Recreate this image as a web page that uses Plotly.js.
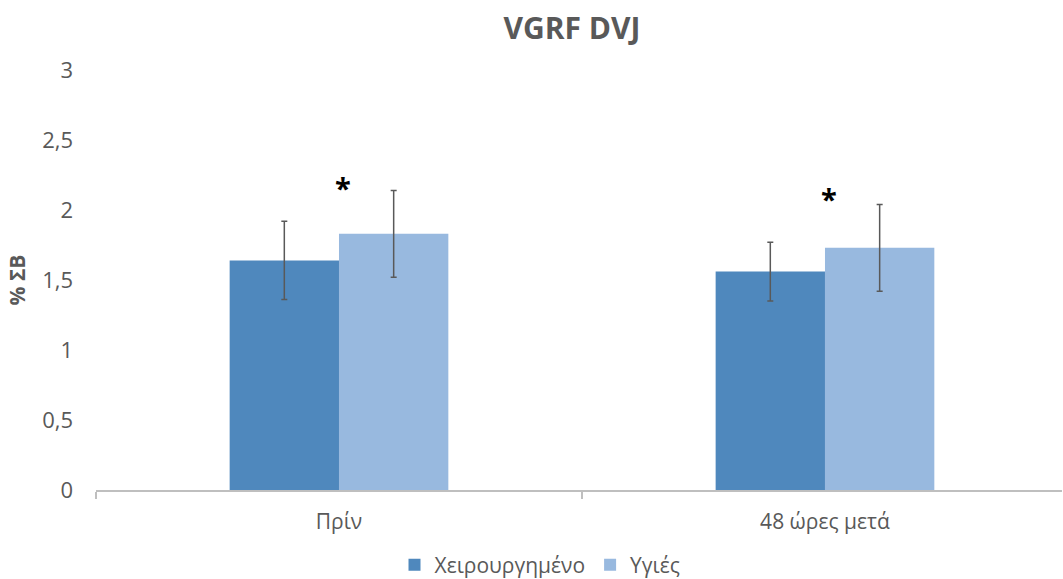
<!DOCTYPE html>
<html>
<head>
<meta charset="utf-8">
<script src="https://cdn.plot.ly/plotly-3.0.1.min.js"></script>
<style>html,body{margin:0;padding:0;background:#fff;}#chart{width:1063px;height:579px;}</style>
</head>
<body>
<div id="chart"></div>
<script>
const categories = ["Πρίν", "48 ώρες μετά"];
const seriesNames = ["Χειρουργημένο", "Υγιές"];
const operated = [1.64, 1.56];
const operatedErr = [0.28, 0.21];
const healthy = [1.83, 1.73];
const healthyErr = [0.31, 0.31];
const starY = [2.16, 2.08];
const starText = ["*", "*"];

const errStyle = {type: "data", visible: true, color: "#595959", thickness: 1.5, width: 3};

const traces = [
  {type: "bar", name: seriesNames[0], x: categories, y: operated,
   marker: {color: "#4f88bd"}, error_y: Object.assign({array: operatedErr}, errStyle)},
  {type: "bar", name: seriesNames[1], x: categories, y: healthy,
   marker: {color: "#98b9df"}, error_y: Object.assign({array: healthyErr}, errStyle)}
];

const annotations = categories.map((c, i) => ({
  x: c, y: starY[i], text: "<b>" + starText[i] + "</b>", showarrow: false, xshift: 4,
  font: {size: 29, color: "#000", family: "Open Sans"}, yanchor: "middle"
}));

const layout = {
  width: 1063, height: 579,
  margin: {l: 96, r: 1, t: 70, b: 89, autoexpand: false},
  paper_bgcolor: "#fff", plot_bgcolor: "#fff",
  separators: ",.",
  font: {family: "Open Sans, Lato, sans-serif", color: "#595959", size: 21},
  title: {text: "<b>VGRF DVJ</b>", x: 0.538, xanchor: "center", y: 0.95, yanchor: "middle",
          font: {size: 30, color: "#595959"}},
  barmode: "group", bargap: 0.55, bargroupgap: 0,
  xaxis: {type: "category", range: [-0.5, 1.4877], automargin: false, showline: true, linecolor: "#bfbfbf", linewidth: 1.5,
          ticks: "outside", tickson: "boundaries", ticklen: 7, tickcolor: "#bfbfbf", tickwidth: 1.5,
          ticklabelstandoff: 12,
          tickfont: {size: 21, color: "#595959"}, showgrid: false, zeroline: false},
  yaxis: {range: [0, 3], dtick: 0.5, automargin: false, showgrid: false, zeroline: false, showline: false,
          ticks: "", ticklabelstandoff: 22, tickfont: {size: 22, color: "#595959"},
          title: {text: "<b>% ΣΒ</b>", font: {size: 21, color: "#595959"}, standoff: 10}},
  showlegend: true,
  legend: {orientation: "h", xref: "container", yref: "container", x: 0.508, xanchor: "center",
           y: 0.024, yanchor: "middle",
           font: {size: 21, color: "#595959"}, itemwidth: 30},
  annotations: annotations
};

Plotly.newPlot("chart", traces, layout, {displayModeBar: false, staticPlot: true});
</script>
</body>
</html>
